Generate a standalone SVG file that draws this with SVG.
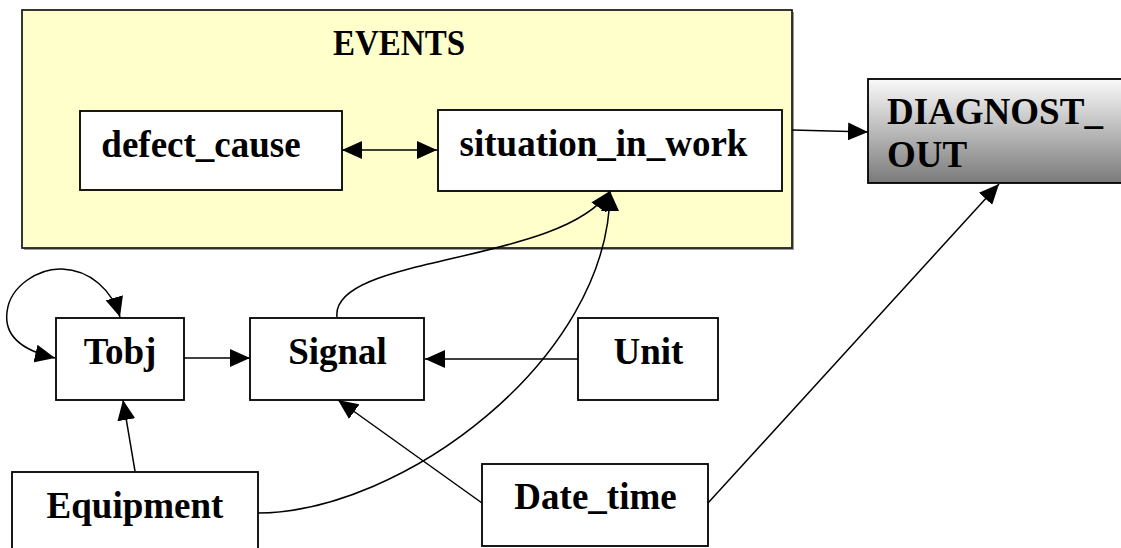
<svg xmlns="http://www.w3.org/2000/svg" width="1121" height="548" viewBox="0 0 1121 548">
<style>
.box{fill:#ffffff;stroke:#000000;stroke-width:1.8}
.lbl{font-family:"Liberation Serif","Times New Roman",serif;font-weight:bold;font-size:37px;fill:#000000}
.edge{fill:none;stroke:#000000;stroke-width:1.5}
</style>
<defs>
<marker id="ah" markerUnits="userSpaceOnUse" markerWidth="20" markerHeight="18" refX="20" refY="9" orient="auto-start-reverse" viewBox="0 0 20 18">
<path d="M0,0 L20,9 L0,18 z" fill="#000000"/>
</marker>
<linearGradient id="gd" x1="0" y1="0" x2="0" y2="1">
<stop offset="0" stop-color="#fafafa"/>
<stop offset="1" stop-color="#7a7a7a"/>
</linearGradient>
</defs>
<g id="events">
<rect x="24" y="12" width="770" height="238" fill="#9a9a9a"/>
<rect x="22" y="10" width="770" height="238" fill="#ffffcc" stroke="#222222" stroke-width="1.8"/>
<text class="lbl" x="399" y="55" text-anchor="middle" textLength="132" lengthAdjust="spacingAndGlyphs" style="font-size:35px">EVENTS</text>
</g>
<g id="defect_cause">
<rect class="box" x="80" y="111" width="262" height="79"/>
<text class="lbl" x="201" y="157" text-anchor="middle">defect_cause</text>
</g>
<g id="situation_in_work">
<rect class="box" x="438" y="110" width="344" height="81"/>
<text class="lbl" x="603.5" y="156" text-anchor="middle">situation_in_work</text>
</g>
<g id="diagnost_out">
<rect x="868" y="79" width="262" height="104" fill="url(#gd)" stroke="#000000" stroke-width="1.8"/>
<text class="lbl" x="887" y="124">DIAGNOST_</text>
<text class="lbl" x="887" y="167">OUT</text>
</g>
<g id="tobj">
<rect class="box" x="56" y="318" width="128" height="82"/>
<text class="lbl" x="120" y="364" text-anchor="middle">Tobj</text>
</g>
<g id="signal">
<rect class="box" x="250" y="318" width="174" height="82"/>
<text class="lbl" x="337.5" y="364" text-anchor="middle">Signal</text>
</g>
<g id="unit">
<rect class="box" x="578" y="318" width="140" height="82"/>
<text class="lbl" x="648.5" y="364" text-anchor="middle">Unit</text>
</g>
<g id="equipment">
<rect class="box" x="12" y="472" width="246" height="90"/>
<text class="lbl" x="135" y="518" text-anchor="middle">Equipment</text>
</g>
<g id="date_time">
<rect class="box" x="482" y="464" width="226" height="82"/>
<text class="lbl" x="595.5" y="509" text-anchor="middle">Date_time</text>
</g>
<g id="connectors">
<path class="edge" d="M342,150 L437,150" marker-start="url(#ah)" marker-end="url(#ah)"/>
<path class="edge" d="M792,130 L868,132" marker-end="url(#ah)"/>
<path class="edge" d="M184,358 L250,358" marker-end="url(#ah)"/>
<path class="edge" d="M578,359 L425,359" marker-end="url(#ah)"/>
<path class="edge" d="M135,471 L123,400" marker-end="url(#ah)"/>
<path class="edge" d="M482,503 L338,400" marker-end="url(#ah)"/>
<path class="edge" d="M708,503 L999,184" marker-end="url(#ah)"/>
<path class="edge" d="M337,317 C330,255 560,265 610,191" marker-end="url(#ah)"/>
<path class="edge" d="M258,513 C400,513 610,360 610,191" marker-end="url(#ah)"/>
<path class="edge" d="M55,358 C20,350 4,335 7,312 C10,285 40,268 62,269 C90,270 112,290 120,317" marker-start="url(#ah)" marker-end="url(#ah)"/>
</g>
</svg>
